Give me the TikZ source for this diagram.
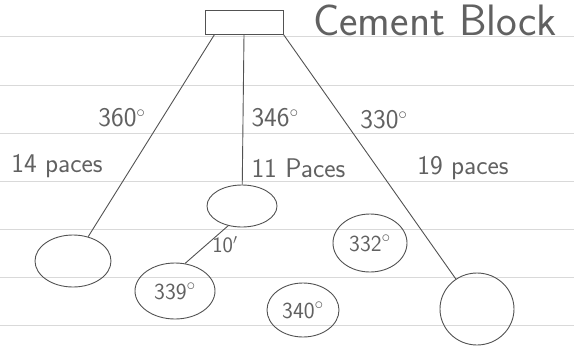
\documentclass[tikz,border=0pt]{standalone}
\usetikzlibrary{shapes.geometric}
\begin{document}
\begin{tikzpicture}[x=1pt,y=-1pt]
        \tikzstyle{every node}=[text=black!62, font=\sffamily\fontsize{27}{30}\selectfont]
        \tikzstyle{pencil}=[draw=black!68, line width=0.9pt]
        \tikzstyle{rock}=[pencil, ellipse, inner sep=0pt, font=\sffamily\fontsize{23}{27}\selectfont]
        \useasboundingbox (0,0) rectangle (574,349);
        % ruled paper
        \foreach \y in {36,85,133,181,229,277,325}
            \draw[black!15, line width=0.8pt] (0,\y) -- (574,\y);
        \node[pencil, minimum width=78pt, minimum height=24pt, inner sep=0pt] (block) at (244,22) {};
        \node[font=\sffamily\fontsize{44}{50}\selectfont] (cement) at (435,20) {Cement Block};
        \node[rock, minimum width=76pt, minimum height=52pt] (left) at (73,261) {};
        \node[rock, minimum width=70pt, minimum height=42pt] (mid) at (242,206) {};
        \node[rock, minimum width=80pt, minimum height=56pt] (spot339) at (175,291) {339$^\circ$};
        \node[rock, minimum width=74pt, minimum height=58pt] (spot332) at (370,243) {332$^\circ$};
        \node[rock, minimum width=72pt, minimum height=54pt] (spot340) at (303,310) {340$^\circ$};
        \node[rock, minimum width=74pt, minimum height=72pt] (right) at (477,309) {};
        \draw[pencil] ([xshift=10pt]block.south west) -- (left);
        \draw[pencil] (block.south) -- (mid);
        \draw[pencil] (block.south east) -- (right);
        \draw[pencil] (mid.235) -- node[right=2pt, font=\sffamily\fontsize{22}{26}\selectfont] {10$'$} (spot339.70);
        % bearings and paces
        \node (b360) at (122,118) {360$^\circ$};
        \node[anchor=west] (b346) at (248,118) {346$^\circ$};
        \node (b330) at (384,120) {330$^\circ$};
        \node (p14) at (57,166) {14 paces};
        \node[anchor=west] (p11) at (248,168) {11 Paces};
        \node (p19) at (463,168) {19 paces};
    \end{tikzpicture}
\end{document}
